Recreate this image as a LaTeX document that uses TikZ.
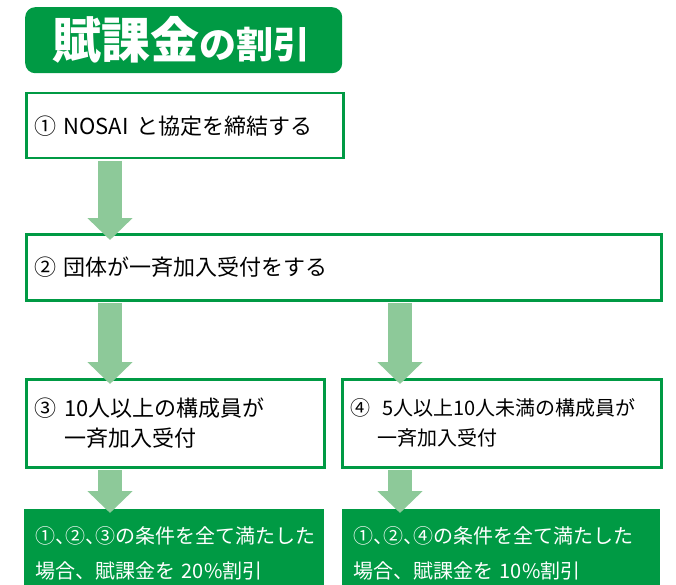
\documentclass[tikz,border=0pt]{standalone}
\usepackage{fontspec}
\setmainfont{Noto Sans CJK JP}
\usetikzlibrary{arrows.meta,calc}
\definecolor{nosaigreen}{RGB}{0,154,68}
\definecolor{arrowgreen}{RGB}{141,201,153}
\newcommand{\narrowcomma}{\makebox[0.5em][l]{、}}

\begin{document}
\begin{tikzpicture}[x=1pt,y=-1pt,
  titlebox/.style={fill=nosaigreen,text=white,rounded corners=10pt,anchor=north west,
    inner xsep=27pt,inner ysep=0pt,minimum height=66pt,align=left},
  stepbox/.style={draw=nosaigreen,line width=2.5pt,fill=white,anchor=north west,
    inner xsep=8pt,inner ysep=0pt,align=left,font=\fontsize{22}{30}\selectfont},
  resultbox/.style={fill=nosaigreen,text=white,anchor=north west,
    inner xsep=11pt,inner ysep=0pt,align=left,font=\fontsize{20}{35}\selectfont},
  blockarrow/.style={draw=arrowgreen,line width=24pt,
    -{Triangle[width=44pt,length=22pt,fill=arrowgreen]}}]

\clip (0,0) rectangle (676,585);
\useasboundingbox (0,0) rectangle (676,585);

% title
\node[titlebox,text width=263pt] (title) at (25,7)
  {\bfseries\fontsize{49}{49}\selectfont 賦課金\fontsize{37}{37}\selectfont の割引};

% steps
\node[stepbox,text width=301pt,minimum height=65pt] (b1) at (25,92)
  {① NOSAI と協定を締結する};
\node[stepbox,text width=619pt,minimum height=66pt] (b2) at (25,233)
  {② 団体が一斉加入受付をする};
\node[stepbox,text width=282pt,minimum height=88pt] (b3) at (25,378)
  {\mbox{③\hspace{8pt}10人以上の構成員が}\\\hspace*{30pt}一斉加入受付};
\node[stepbox,text width=303pt,minimum height=88pt,font=\fontsize{20}{30}\selectfont] (b4) at (341,378)
  {\mbox{④\hspace{12pt}5人以上10人未満の構成員が}\\\hspace*{27pt}一斉加入受付};

% results
\node[resultbox,text width=278pt,minimum height=88pt] (r1) at (24,509)
  {\mbox{①\narrowcomma ②\narrowcomma ③の条件を全て満たした}\\場合、賦課金を 20\%割引};
\node[resultbox,text width=296pt,minimum height=88pt] (r2) at (342,509)
  {\mbox{①\narrowcomma ②\narrowcomma ④の条件を全て満たした}\\場合、賦課金を 10\%割引};

% arrows
\coordinate (ax1) at (110,0);
\coordinate (ax2) at (400,0);
\draw[blockarrow] ($(b1.south -| ax1)+(0,1.5)$) -- ($(b2.north -| ax1)+(0,7)$);
\draw[blockarrow] ($(b2.south -| ax1)+(0,1.5)$) -- ($(b3.north -| ax1)+(0,6)$);
\draw[blockarrow] ($(b2.south -| ax2)+(0,1.5)$) -- ($(b4.north -| ax2)+(0,6)$);
\draw[blockarrow] ($(b3.south -| ax1)+(0,1.5)$) -- ($(r1.north -| ax1)+(0,4)$);
\draw[blockarrow] ($(b4.south -| ax2)+(0,1.5)$) -- ($(r2.north -| ax2)+(0,4)$);

\end{tikzpicture}
\end{document}
